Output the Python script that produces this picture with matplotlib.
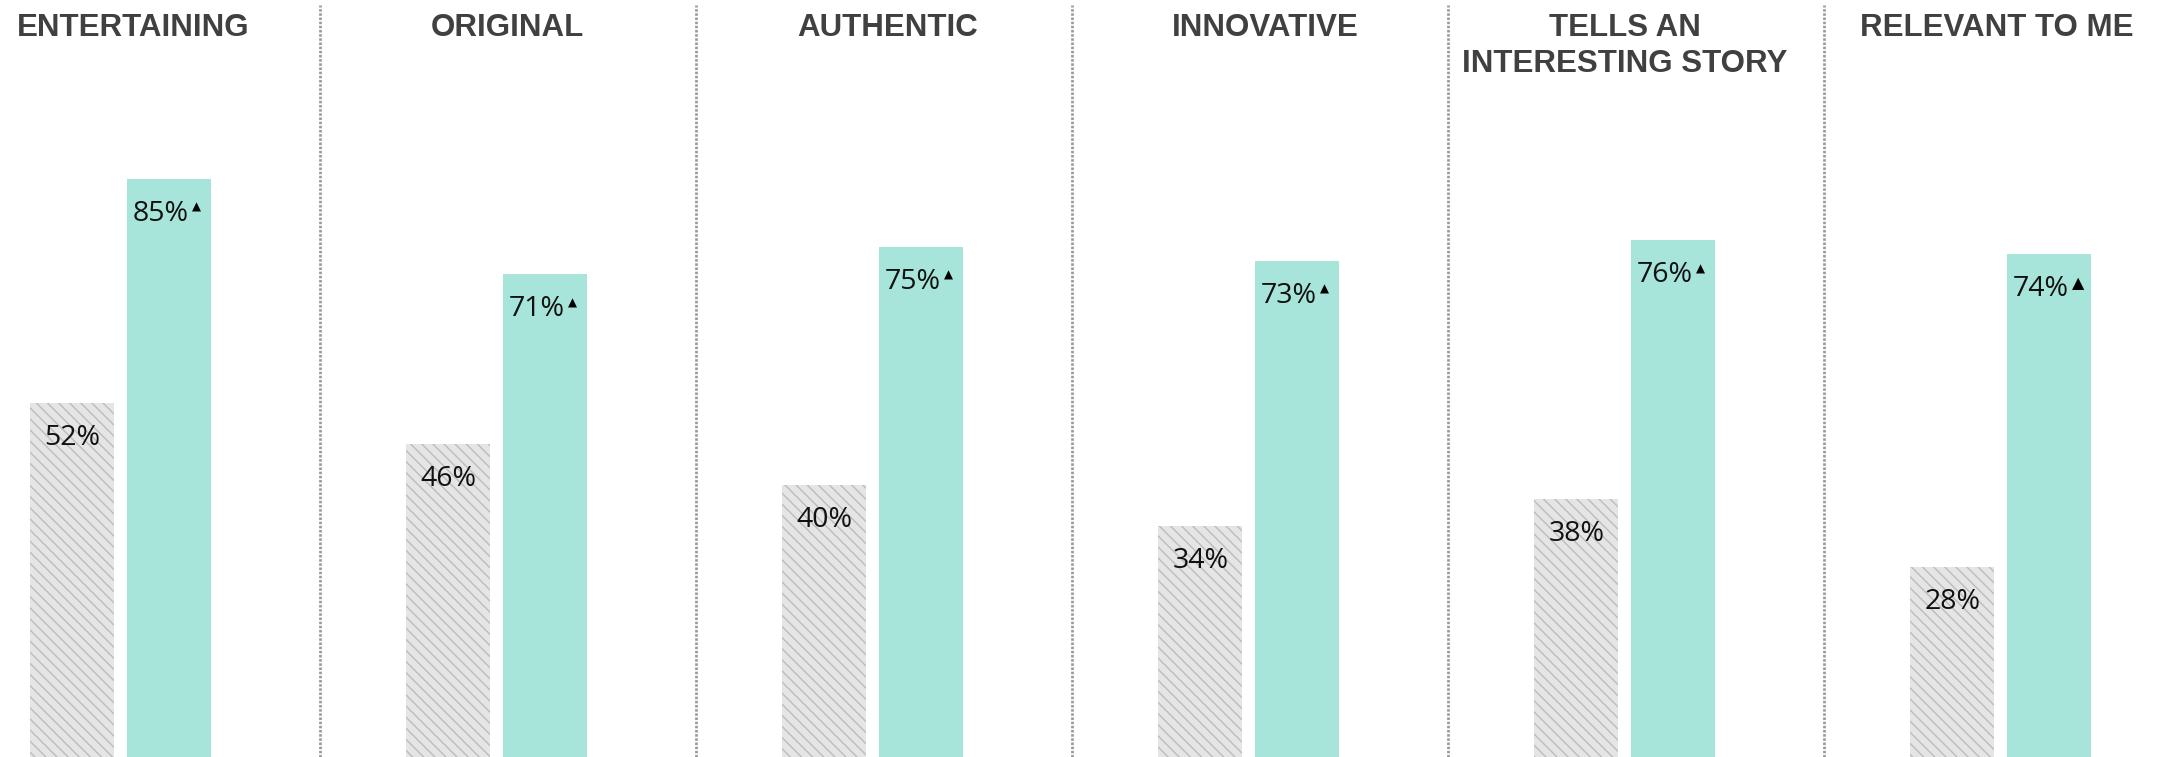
import matplotlib
matplotlib.use("Agg")
import matplotlib.pyplot as plt
import numpy as np

# ---- data -------------------------------------------------------------
categories = ["ENTERTAINING", "ORIGINAL", "AUTHENTIC", "INNOVATIVE",
              "TELLS AN\nINTERESTING STORY", "RELEVANT TO ME"]
baseline_pct = [52, 46, 40, 34, 38, 28]
exposed_pct = [85, 71, 75, 73, 76, 74]
value_labels_base = [f"{v}%" for v in baseline_pct]
value_labels_exp = [f"{v}%" for v in exposed_pct]

# ---- style ------------------------------------------------------------
W_PX, H_PX, DPI = 2167, 757, 100
PX_PER_PCT = 6.8          # vertical scale
PX_PER_CAT = 376.0        # horizontal distance between groups
GROUP0_PX = 120.7         # centre of first group
BAR_W = 84 / PX_PER_CAT
BAR_OFF = 48.3 / PX_PER_CAT
DIV_OFF = 199.7 / PX_PER_CAT

TEAL = "#a7e4da"
GREY_FACE = "#e5e5e5"
GREY_HATCH = "#bcbcbc"
TITLE_COLOR = "#404040"
DIV_COLOR = "#9c9c9c"
title_nudge_px = [12, 11, 15, 17, 0, -4]
tri_size = [8.5, 8.5, 8.5, 8.5, 8.5, 11.5]

plt.rcParams["hatch.linewidth"] = 1.0

fig = plt.figure(figsize=(W_PX / DPI, H_PX / DPI), dpi=DPI)
ax = fig.add_axes([0, 0, 1, 1])
ax.set_xlim(-GROUP0_PX / PX_PER_CAT, (W_PX - GROUP0_PX) / PX_PER_CAT)
ax.set_ylim(0, H_PX / PX_PER_PCT)
ax.axis("off")

x = np.arange(len(categories))

ax.bar(x - BAR_OFF, baseline_pct, width=BAR_W, color=GREY_FACE,
       edgecolor=GREY_HATCH, linewidth=0, hatch="\\\\\\")
ax.bar(x + BAR_OFF, exposed_pct, width=BAR_W, color=TEAL, linewidth=0)

label_font = dict(family="Open Sans", size=20.5, color="#111111")

for i in range(len(categories)):
    # baseline value
    ax.annotate(value_labels_base[i], xy=(x[i] - BAR_OFF, baseline_pct[i]),
                xytext=(0, -21), textcoords="offset pixels",
                ha="center", va="top", **label_font)
    # exposed value with significance marker
    t = ax.annotate(value_labels_exp[i], xy=(x[i] + BAR_OFF, exposed_pct[i]),
                    xytext=(-8, -21), textcoords="offset pixels",
                    ha="center", va="top", **label_font)
    ax.annotate("\u25B2", xy=(1, 1), xycoords=t,
                xytext=(3, -1), textcoords="offset pixels",
                ha="left", va="top", family="DejaVu Sans",
                size=tri_size[i], color="#000000")

# dotted separators between panels
for i in range(len(categories) - 1):
    ax.plot([x[i] + DIV_OFF] * 2, [0, (H_PX - 5) / PX_PER_PCT],
            color=DIV_COLOR, lw=2.0, linestyle=(0, (0.9, 0.6)),
            solid_capstyle="butt", dash_capstyle="butt")

# panel titles
for i, name in enumerate(categories):
    ax.annotate(name, xy=(x[i], H_PX - 13), xycoords=("data", "figure pixels"),
                xytext=(title_nudge_px[i], 0), textcoords="offset pixels",
                ha="center", va="top", family="Liberation Sans",
                weight="bold", size=22.5, color=TITLE_COLOR,
                linespacing=1.25, multialignment="center")

fig.savefig("out.png", dpi=DPI)
